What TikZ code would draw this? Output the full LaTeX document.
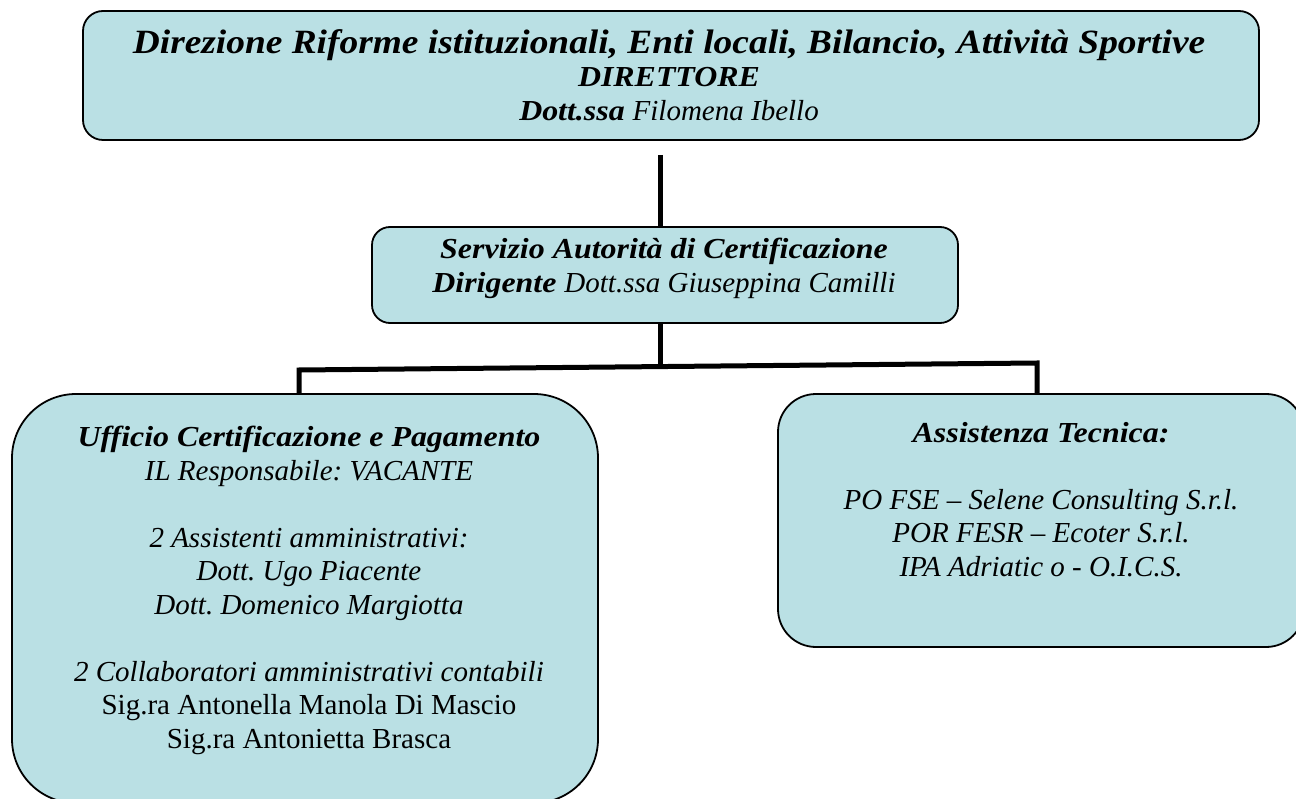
\documentclass[tikz,border=0pt]{standalone}
\usepackage{fontspec}
\setmainfont{Liberation Serif}[BoldItalicFeatures={FakeStretch=1.1}]
\frenchspacing
\definecolor{boxblue}{RGB}{186,224,228}
\tikzset{
  box/.style={draw=black,line width=1.8pt,fill=boxblue,inner sep=0pt},
  txt/.style={anchor=north,inner sep=0pt,align=center,font=\fontsize{29}{33.5}\selectfont\itshape},
  wire/.style={line width=5pt,draw=black}
}
\begin{document}
\begin{tikzpicture}[x=1pt,y=1pt]
\useasboundingbox (0,0) rectangle (1296,-799);

% boxes
\node[box,rounded corners=20pt,minimum width=1176pt,minimum height=129pt] (v1) at (671,-75.5) {};
\node[box,rounded corners=18pt,minimum width=586pt,minimum height=96pt] (v2) at (665,-275) {};
\node[box,rounded corners=64pt,minimum width=586pt,minimum height=409pt] (v3) at (305,-598.5) {};
\node[box,rounded corners=38pt,minimum width=526pt,minimum height=253pt] (v4) at (1041,-520.5) {};

% texts
\node[txt,font=\fontsize{29}{33.5}\selectfont\bfseries\itshape] (t1) at (669,-29)
  {{\fontsize{34}{33.5}\selectfont Direzione Riforme istituzionali, Enti locali, Bilancio, Attività Sportive}\\
   DIRETTORE\\
   Dott.ssa {\mdseries Filomena Ibello}};
\node[txt,font=\fontsize{29}{33.5}\selectfont\bfseries\itshape] (t2) at (664,-238)
  {Servizio Autorità di Certificazione\\
   Dirigente {\mdseries Dott.ssa Giuseppina Camilli}};
\node[txt] (t3) at (309,-426)
  {{\bfseries Ufficio Certificazione e Pagamento}\\
   IL Responsabile: VACANTE\\[33.5pt]
   2 Assistenti amministrativi:\\
   Dott. Ugo Piacente\\
   Dott. Domenico Margiotta\\[33.5pt]
   2 Collaboratori amministrativi contabili\\
   {\upshape Sig.ra Antonella Manola Di Mascio}\\
   {\upshape Sig.ra Antonietta Brasca}};
\node[txt] (t4) at (1041,-422)
  {{\bfseries Assistenza Tecnica:}\\[33.5pt]
   PO FSE – Selene Consulting S.r.l.\\
   POR FESR – Ecoter S.r.l.\\
   IPA Adriatic o - O.I.C.S.};

% connectors
\coordinate (v5) at (660,-155);
\coordinate (v6) at (660,-366.5);
\coordinate (v7) at (299,-370);
\coordinate (v8) at (1037,-363);
\draw[wire] (v5) -- (v5 |- v2.north);
\draw[wire] (v6 |- v2.south) -- (v6);
\draw[wire] (v7 |- v3.north) -- (v7) -- (v8) -- (v8 |- v4.north);
\end{tikzpicture}
\end{document}
